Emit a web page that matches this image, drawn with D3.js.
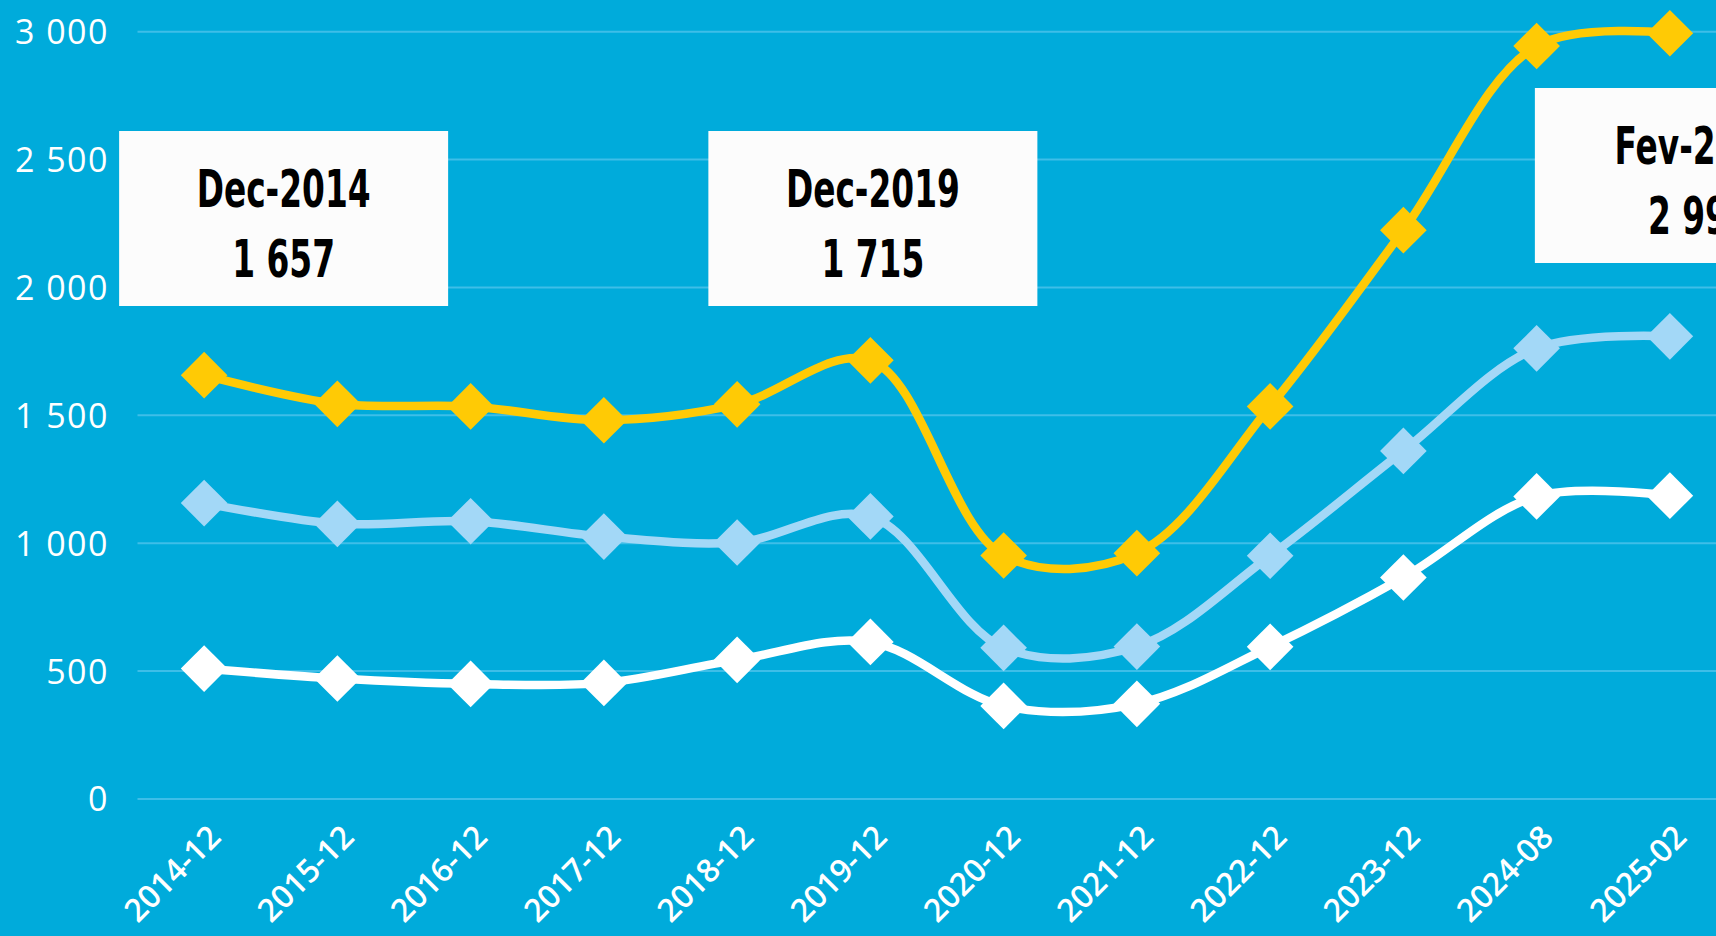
<!DOCTYPE html>
<html>
<head>
<meta charset="utf-8">
<script src="https://cdn.jsdelivr.net/npm/d3@7"></script>
<style>
  html, body { margin: 0; padding: 0; background: #00ABDB; overflow: hidden; }
  svg { display: block; }
</style>
</head>
<body>
<svg id="chart" width="1716" height="936"></svg>
<script>
// ---------------- DATA ----------------
const categories = ["2014-12","2015-12","2016-12","2017-12","2018-12","2019-12","2020-12","2021-12","2022-12","2023-12","2024-08","2025-02"];
const seriesGold  = [1657, 1545, 1535, 1481, 1543, 1715, 952, 961, 1535, 2224, 2944, 2994];
const seriesLight = [1157, 1076, 1086, 1026, 1003, 1105, 591, 596, 951, 1361, 1762, 1809];
const seriesWhite = [510, 471, 450, 454, 544, 614, 364, 372, 595, 866, 1183, 1186];
const yTicks = [0, 500, 1000, 1500, 2000, 2500, 3000];
const annotCats   = ["2014-12", "2019-12", "2025-02"];
const annotTitles = ["Dec-2014", "Dec-2019", "Fev-2025"];
const annotValues = [1657, 1715, 2994];

// ---------------- LAYOUT ----------------
const W = 1716, H = 936;
const svg = d3.select("#chart");
const colors = { bg: "#00ABDB", grid: "#3EBEE8", gold: "#FFCA05", light: "#A3D8F7", white: "#FFFFFF" };

const x = d3.scalePoint().domain(categories).range([137.5, 1736.5]).padding(0.5);
const y = d3.scaleLinear().domain([0, 3000]).range([799, 31.7]);
const fmt = d3.formatLocale({ decimal: ",", thousands: "\u00a0", grouping: [3], currency: ["", ""] }).format(",d");

svg.append("rect").attr("width", W).attr("height", H).attr("fill", colors.bg);

// grid
svg.append("g").selectAll("line").data(yTicks).join("line")
  .attr("x1", x.range()[0]).attr("x2", x.range()[1])
  .attr("y1", d => y(d)).attr("y2", d => y(d))
  .attr("stroke", colors.grid).attr("stroke-width", 2);

// y axis labels
const yAxis = d3.axisLeft(y).tickValues(yTicks).tickFormat(fmt).tickSize(0).tickPadding(0);
const gy = svg.append("g").attr("transform", "translate(109,0)").call(yAxis);
gy.select(".domain").remove();
gy.selectAll("text")
  .attr("fill", "#FFFFFF").attr("font-family", "'Open Sans', Lato, sans-serif")
  .attr("font-size", 34).attr("font-weight", 500).attr("letter-spacing", "1.5px").attr("dy", "0.35em")
  .attr("text-anchor", "end");

// x axis labels
const xAxis = d3.axisBottom(x).tickSize(0).tickPadding(0);
const gx = svg.append("g").attr("transform", "translate(0,799)").call(xAxis);
gx.select(".domain").remove();
gx.selectAll(".tick text")
  .attr("fill", "#FFFFFF").attr("font-family", "'Open Sans', Lato, sans-serif")
  .attr("font-size", 32).attr("font-weight", 600).attr("text-anchor", "end").attr("dy", 0).attr("y", 0)
  .attr("transform", "translate(18,40) rotate(-45)");

// series
const series = [
  { values: seriesWhite, color: colors.white },
  { values: seriesLight, color: colors.light },
  { values: seriesGold,  color: colors.gold }
];
const line = d3.line().x((d, i) => x(categories[i])).y(d => y(d)).curve(d3.curveCatmullRom.alpha(0.5));
const diamond = d3.symbol().type(d3.symbolSquare).size(33 * 33);

series.forEach(s => {
  const g = svg.append("g");
  g.append("path").datum(s.values).attr("d", line)
    .attr("fill", "none").attr("stroke", s.color).attr("stroke-width", 8.5)
    .attr("stroke-linejoin", "round");
  g.selectAll("path.m").data(s.values).join("path").attr("class", "m")
    .attr("d", diamond)
    .attr("transform", (d, i) => `translate(${x(categories[i])},${y(d)}) rotate(45)`)
    .attr("fill", s.color);
});

// annotations
const annotDx = [79.5, 2.5, 29.5];
const annotTop = [131, 131, 88];
const boxW = 329, boxH = 175;
const annotFont = "'Liberation Sans Narrow', 'DejaVu Sans Condensed', 'Liberation Sans', sans-serif";
const annotSize = 52;
const ga = svg.append("g");
const probe = ga.append("text").attr("font-family", annotFont).attr("font-weight", "bold")
  .attr("font-size", annotSize).text(annotTitles[0]);
const natural = probe.node().getComputedTextLength();
probe.remove();
const sx = 174 / natural;

annotCats.forEach((c, i) => {
  const cx = x(c) + annotDx[i];
  const top = annotTop[i];
  ga.append("rect").attr("x", cx - boxW / 2).attr("y", top).attr("width", boxW).attr("height", boxH)
    .attr("fill", "#FCFCFC");
  [annotTitles[i], fmt(annotValues[i])].forEach((t, k) => {
    ga.append("text")
      .attr("transform", `translate(${cx},${top + (k === 0 ? 57 : 127)}) scale(${sx},1)`)
      .attr("text-anchor", "middle").attr("dy", "0.36em")
      .attr("font-family", annotFont).attr("font-weight", "bold").attr("font-size", annotSize)
      .attr("fill", "#000").text(t);
  });
});
</script>
</body>
</html>
